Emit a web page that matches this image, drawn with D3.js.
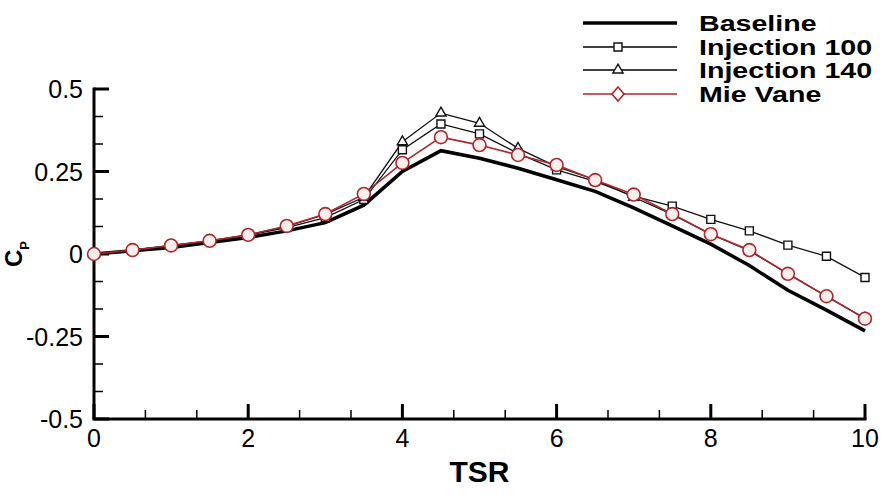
<!DOCTYPE html>
<html><head><meta charset="utf-8">
<script src="https://cdn.jsdelivr.net/npm/d3@7"></script>
<style>body{margin:0;background:#fff}svg{display:block}</style>
</head><body>
<svg id="c" width="885" height="497"></svg>
<script>
const tsr = [0,0.5,1,1.5,2,2.5,3,3.5,4,4.5,5,5.5,6,6.5,7,7.5,8,8.5,9,9.5,10];
const baseline = [0,0.01,0.02,0.035,0.05,0.07,0.095,0.148,0.25,0.313,0.29,0.26,0.225,0.19,0.14,0.085,0.03,-0.035,-0.11,-0.17,-0.233];
const inj100 = [0,0.012,0.025,0.04,0.057,0.08,0.11,0.165,0.316,0.394,0.364,0.305,0.255,0.22,0.175,0.145,0.105,0.07,0.027,-0.007,-0.071];
const inj140 = [0,0.012,0.026,0.04,0.058,0.084,0.12,0.172,0.34,0.427,0.396,0.32,0.265,0.225,0.172,0.12,0.06,0.01,-0.06,-0.128,-0.195];
const mie = [0,0.012,0.026,0.04,0.058,0.085,0.121,0.182,0.276,0.354,0.33,0.3,0.27,0.224,0.18,0.121,0.06,0.012,-0.06,-0.128,-0.196];
const seriesNames = ["Baseline","Injection 100","Injection 140","Mie Vane"];
const xTicks = [0,2,4,6,8,10];
const yTicks = [-0.5,-0.25,0,0.25,0.5];
const yTickLabels = ["-0.5","-0.25","0","0.25","0.5"];

const svg = d3.select("#c");
const x = d3.scaleLinear().domain([0,10]).range([94,865]);
const y = d3.scaleLinear().domain([-0.5,0.5]).range([419,89]);
const red = "#b0262c";
const font = "'Liberation Sans', Arial, Helvetica, sans-serif";

// axes lines
const g = svg.append("g");
g.append("line").attr("x1",x(0)-1.5).attr("x2",x(10)+1.5).attr("y1",y(-0.5)).attr("y2",y(-0.5)).attr("stroke","#000").attr("stroke-width",3);
g.append("line").attr("x1",x(0)).attr("x2",x(0)).attr("y1",y(-0.5)).attr("y2",y(0.5)-1.5).attr("stroke","#000").attr("stroke-width",3);

// ticks major + minor
const xMinor = d3.range(0,10.001,2/3).filter(v=>!xTicks.some(t=>Math.abs(t-v)<1e-6));
g.selectAll(".xmaj").data(xTicks).join("line").attr("x1",d=>x(d)).attr("x2",d=>x(d)).attr("y1",y(-0.5)).attr("y2",y(-0.5)-15).attr("stroke","#000").attr("stroke-width",3);
g.selectAll(".xmin").data(xMinor).join("line").attr("x1",d=>x(d)).attr("x2",d=>x(d)).attr("y1",y(-0.5)).attr("y2",y(-0.5)-9).attr("stroke","#000").attr("stroke-width",1.5);
const yMinor = d3.range(-0.5,0.5001,0.25/3).filter(v=>!yTicks.some(t=>Math.abs(t-v)<1e-6));
g.selectAll(".ymaj").data(yTicks).join("line").attr("x1",x(0)).attr("x2",x(0)+15).attr("y1",d=>y(d)).attr("y2",d=>y(d)).attr("stroke","#000").attr("stroke-width",3);
g.selectAll(".ymin").data(yMinor).join("line").attr("x1",x(0)).attr("x2",x(0)+9).attr("y1",d=>y(d)).attr("y2",d=>y(d)).attr("stroke","#000").attr("stroke-width",1.5);

// tick labels
g.selectAll(".xl").data(xTicks).join("text").attr("x",d=>x(d)).attr("y",447).attr("text-anchor","middle")
 .attr("font-family",font).attr("font-size",25).text(d=>d);
g.selectAll(".yl").data(yTicks).join("text").attr("x",83).attr("y",d=>y(d)+9).attr("text-anchor","end")
 .attr("font-family",font).attr("font-size",25).text((d,i)=>yTickLabels[i]);

// axis titles
svg.append("text").attr("x",x(5)).attr("y",482).attr("text-anchor","middle").attr("font-family",font)
 .attr("font-weight","bold").attr("font-size",30).text("TSR");
const yt = svg.append("text").attr("transform",`translate(22,${y(0)}) rotate(-90)`).attr("text-anchor","middle")
 .attr("font-family",font).attr("font-weight","bold").attr("font-size",24);
yt.append("tspan").text("C");
yt.append("tspan").attr("font-size",13).attr("dy",7).text("P");

// series
const line = d3.line().x(d=>x(d[0])).y(d=>y(d[1]));
const pts = arr => tsr.map((t,i)=>[t,arr[i]]);
svg.append("path").datum(pts(baseline)).attr("d",line).attr("fill","none").attr("stroke","#000").attr("stroke-width",3.5);
svg.append("path").datum(pts(inj100)).attr("d",line).attr("fill","none").attr("stroke","#111").attr("stroke-width",1.3);
svg.append("path").datum(pts(inj140)).attr("d",line).attr("fill","none").attr("stroke","#111").attr("stroke-width",1.3);
svg.append("path").datum(pts(mie)).attr("d",line).attr("fill","none").attr("stroke",red).attr("stroke-width",1.6);

const sq = d3.symbol().type(d3.symbolSquare).size(64);
const tri = d3.symbol().type(d3.symbolTriangle).size(45);
const circ = d3.symbol().type(d3.symbolCircle).size(130);
const dia = "M0,-7L6,0L0,7L-6,0Z";
svg.selectAll(".s1").data(pts(inj100)).join("path").attr("d",sq).attr("transform",d=>`translate(${x(d[0])},${y(d[1])})`)
 .attr("fill","#fff").attr("stroke","#111").attr("stroke-width",1.4);
svg.selectAll(".s2").data(pts(inj140)).join("path").attr("d",tri).attr("transform",d=>`translate(${x(d[0])},${y(d[1])})`)
 .attr("fill","#fff").attr("stroke","#111").attr("stroke-width",1.4);
svg.selectAll(".s3").data(pts(mie)).join("path").attr("d",circ).attr("transform",d=>`translate(${x(d[0])},${y(d[1])})`)
 .attr("fill","#fdeeee").attr("stroke",red).attr("stroke-width",1.6);

// legend
const legY = [23,47,70,94];
const lg = svg.append("g");
seriesNames.forEach((n,i)=>{
  const yy = legY[i];
  lg.append("line").attr("x1",583).attr("x2",677).attr("y1",yy).attr("y2",yy)
    .attr("stroke",i===3?red:"#000").attr("stroke-width",i===0?3.5:1.4);
  if(i===1) lg.append("path").attr("d",sq).attr("transform",`translate(618,${yy})`).attr("fill","#fff").attr("stroke","#111").attr("stroke-width",1.4);
  if(i===2) lg.append("path").attr("d",tri).attr("transform",`translate(618,${yy})`).attr("fill","#fff").attr("stroke","#111").attr("stroke-width",1.4);
  if(i===3) lg.append("path").attr("d",dia).attr("transform",`translate(618,${yy})`).attr("fill","#fff").attr("stroke",red).attr("stroke-width",1.6);
  lg.append("text").attr("transform",`translate(699,${yy+8}) scale(1.3,1)`).attr("font-family",font)
    .attr("font-weight","bold").attr("font-size",22).text(n);
});
</script>
</body></html>
